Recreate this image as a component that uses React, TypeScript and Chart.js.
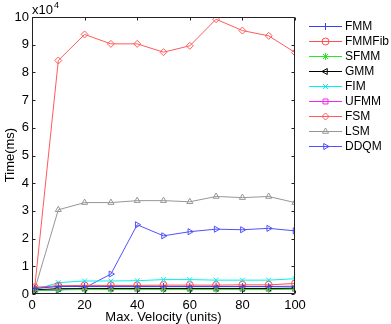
import React, { useEffect, useRef } from "react";
import { Chart, registerables } from "chart.js";
import { drawPoint } from "chart.js/helpers";

Chart.register(...registerables);

// x values (Max. Velocity, units)
const velocities = [1, 10, 20, 30, 40, 50, 60, 70, 80, 90, 100];
// times in units of 10^4 ms
const fmm = [0.2, 0.27, 0.27, 0.27, 0.27, 0.27, 0.27, 0.27, 0.27, 0.27, 0.28];
const fmmFib = [0.24, 0.3, 0.31, 0.31, 0.31, 0.32, 0.32, 0.32, 0.33, 0.33, 0.38];
const sfmm = [0.12, 0.15, 0.16, 0.16, 0.16, 0.16, 0.16, 0.16, 0.16, 0.16, 0.17];
const gmm = [0.15, 0.19, 0.19, 0.2, 0.2, 0.2, 0.2, 0.2, 0.2, 0.2, 0.21];
const fim = [0.15, 0.41, 0.47, 0.47, 0.48, 0.52, 0.52, 0.5, 0.5, 0.5, 0.55];
const ufmm = [0.12, 0.19, 0.2, 0.2, 0.2, 0.2, 0.2, 0.2, 0.2, 0.2, 0.2];
const fsm = [0.2, 8.43, 9.37, 9.03, 9.03, 8.73, 8.96, 9.92, 9.51, 9.32, 8.72];
const lsm = [0.15, 3.04, 3.3, 3.3, 3.37, 3.37, 3.33, 3.52, 3.48, 3.52, 3.3];
const ddqm = [0.12, 0.14, 0.22, 0.72, 2.5, 2.1, 2.25, 2.34, 2.32, 2.37, 2.28];

const xTicks = [0, 20, 40, 60, 80, 100];
const yTicks = [0, 1, 2, 3, 4, 5, 6, 7, 8, 9, 10];

const seriesNames = ["FMM", "FMMFib", "SFMM", "GMM", "FIM", "UFMM", "FSM", "LSM", "DDQM"];
const seriesData = [fmm, fmmFib, sfmm, gmm, fim, ufmm, fsm, lsm, ddqm];
const seriesColors = [
  "rgb(60,60,255)",
  "rgb(255,80,80)",
  "rgb(40,230,40)",
  "rgb(0,0,0)",
  "rgb(0,240,240)",
  "rgb(240,40,240)",
  "rgb(255,90,90)",
  "rgb(150,150,150)",
  "rgb(80,80,255)",
];
const seriesStyles = ["cross", "circle", "star", "triangle", "crossRot", "rect", "rectRot", "triangle", "triangle"];
const seriesRotations = [0, 0, 0, -90, 0, 0, 0, 0, 90];

const FONT = '"Liberation Sans", Arial, Helvetica, sans-serif';

const overlay = {
  id: "overlay",
  afterDraw(chart: any) {
    const ctx = chart.ctx;
    const { left, right, top, bottom } = chart.chartArea;
    const xs = chart.scales.x;
    const ys = chart.scales.y;
    ctx.save();
    // axes box
    ctx.strokeStyle = "#222";
    ctx.lineWidth = 1;
    const L = Math.round(left) + 0.5;
    const R = Math.round(right) - 0.5;
    const T = Math.round(top) + 0.5;
    const B = Math.round(bottom) - 0.5;
    ctx.beginPath();
    ctx.rect(L, T, R - L, B - T);
    ctx.stroke();
    // inward ticks
    ctx.beginPath();
    for (const v of xTicks) {
      const px = Math.round(xs.getPixelForValue(v)) + 0.5;
      ctx.moveTo(px, B);
      ctx.lineTo(px, B - 3);
      ctx.moveTo(px, T);
      ctx.lineTo(px, T + 3);
    }
    for (const v of yTicks) {
      const py = Math.round(ys.getPixelForValue(v)) + 0.5;
      ctx.moveTo(L, py);
      ctx.lineTo(L + 3, py);
      ctx.moveTo(R, py);
      ctx.lineTo(R - 3, py);
    }
    ctx.stroke();

    // exponent label
    ctx.fillStyle = "#000";
    ctx.textBaseline = "alphabetic";
    ctx.textAlign = "left";
    ctx.font = `13px ${FONT}`;
    ctx.fillText("x10", 32, 14);
    const w = ctx.measureText("x10").width;
    ctx.font = `9px ${FONT}`;
    ctx.fillText("4", 32 + w + 1, 8);

    // axis titles
    ctx.font = `13px ${FONT}`;
    ctx.textAlign = "center";
    ctx.textBaseline = "middle";
    ctx.fillText("Max. Velocity (units)", (left + right) / 2, 317);
    ctx.save();
    ctx.translate(10, 155);
    ctx.rotate(-Math.PI / 2);
    ctx.fillText("Time(ms)", 0, 0);
    ctx.restore();

    // legend
    ctx.textAlign = "left";
    ctx.textBaseline = "middle";
    for (let i = 0; i < seriesNames.length; i++) {
      const y = 26 + i * 15;
      ctx.strokeStyle = seriesColors[i];
      ctx.lineWidth = 1;
      ctx.beginPath();
      ctx.moveTo(309, y + 0.5);
      ctx.lineTo(342, y + 0.5);
      ctx.stroke();
      ctx.fillStyle = "rgba(0,0,0,0)";
      drawPoint(ctx, { pointStyle: seriesStyles[i], rotation: seriesRotations[i], radius: 3.5, borderWidth: 1 } as any, 325.5, y + 0.5);
      ctx.fillStyle = "#000";
      ctx.font = `12px ${FONT}`;
      ctx.fillText(seriesNames[i], 345, y + 1);
    }
    ctx.restore();
  },
};

export default function App() {
  const ref = useRef<HTMLCanvasElement>(null);
  useEffect(() => {
    document.body.style.margin = "0";
    const canvas = ref.current!;
    const chart = new Chart(canvas, {
      type: "line",
      data: {
        datasets: seriesNames.map((name, i) => ({
          label: name,
          data: velocities.map((v, j) => ({ x: v, y: seriesData[i][j] })),
          borderColor: seriesColors[i],
          backgroundColor: "rgba(0,0,0,0)",
          borderWidth: 1,
          pointStyle: seriesStyles[i] as any,
          rotation: seriesRotations[i],
          pointRadius: 3.5,
          pointBorderWidth: 1,
          pointBorderColor: seriesColors[i],
          pointBackgroundColor: "rgba(0,0,0,0)",
          tension: 0,
          fill: false,
        })),
      },
      options: {
        animation: false,
        responsive: false,
        events: [],
        layout: { padding: { left: 0, top: 17, right: 96, bottom: 0 } },
        plugins: { legend: { display: false }, tooltip: { enabled: false } },
        scales: {
          x: {
            type: "linear",
            min: 0,
            max: 100,
            afterFit: (s: any) => {
              s.height = 30;
            },
            afterBuildTicks: (s: any) => {
              s.ticks = xTicks.map((v) => ({ value: v }));
            },
            grid: { display: false, drawTicks: false },
            border: { display: false },
            ticks: { padding: 4, color: "#000", font: { family: FONT, size: 13 }, maxRotation: 0, autoSkip: false },
          },
          y: {
            type: "linear",
            min: 0,
            max: 10,
            afterFit: (s: any) => {
              s.width = 32;
            },
            afterBuildTicks: (s: any) => {
              s.ticks = yTicks.map((v) => ({ value: v }));
            },
            grid: { display: false, drawTicks: false },
            border: { display: false },
            ticks: { padding: 3, color: "#000", font: { family: FONT, size: 13 }, autoSkip: false },
          },
        },
      },
      plugins: [overlay],
    });
    return () => chart.destroy();
  }, []);
  return <canvas ref={ref} width={391} height={324} style={{ display: "block" }} />;
}
